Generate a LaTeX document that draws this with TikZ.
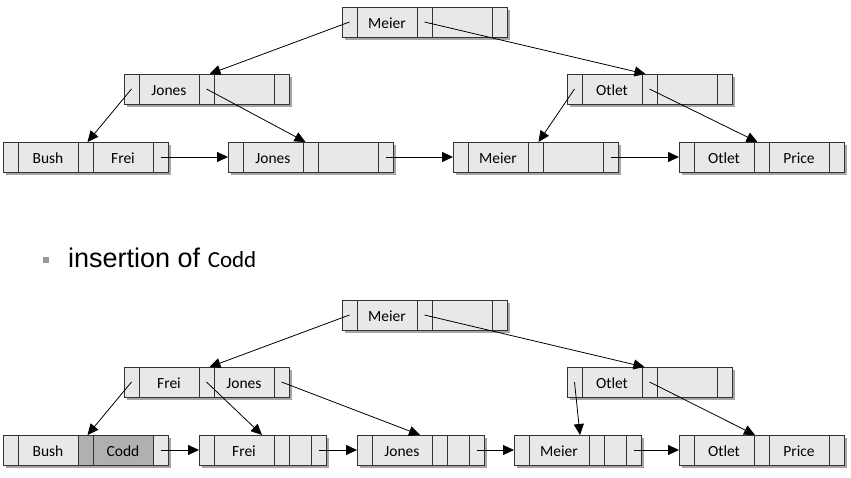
\documentclass[tikz,border=0pt]{standalone}
\usepackage{fontspec}
\newfontfamily\carl{Carlito}
\newfontfamily\ari{Liberation Sans}
\usetikzlibrary{arrows.meta}
\definecolor{cellgray}{HTML}{E8E8E8}
\definecolor{codgray}{HTML}{B0B0B0}
\tikzset{
 cell/.style={draw=black!80, fill=cellgray, line width=0.9pt, minimum height=30pt,
   inner sep=0pt, outer sep=0pt, anchor=north west, text height=12.5pt, text depth=0pt,
   font=\carl\fontsize{15.5}{18}\selectfont, text=black},
 dark/.style={fill=codgray},
 shad/.style={fill=black!35},
 ptr/.style={-{Triangle[length=11pt,width=10pt]}, line width=0.8pt},
}
\newcommand\recbox[7]{%
 \pgfmathsetmacro\recw{105+#6}%
 \fill[shad] (#2+3,#3+3) rectangle ++(\recw,30);
 \node[cell,minimum width=15pt] (#1p0) at (#2,#3) {};
 \node[cell,minimum width=60pt] (#1k0) at (#1p0.north east) {#4};
 \node[cell,minimum width=15pt,#7] (#1p1) at (#1k0.north east) {};
 \node[cell,minimum width=#6pt,#7] (#1k1) at (#1p1.north east) {#5};
 \node[cell,minimum width=15pt] (#1p2) at (#1k1.north east) {};
}
\begin{document}
\begin{tikzpicture}[x=1pt,y=-1pt]
\fill[white] (0,0) rectangle (851,478);
\useasboundingbox (0,0) rectangle (851,478);
% top tree
\recbox{tr}{342}{7}{Meier}{}{60}{}
\recbox{tj}{124}{74}{Jones}{}{60}{}
\recbox{to}{567}{74}{Otlet}{}{60}{}
\recbox{ta}{3}{142}{Bush}{Frei}{60}{}
\recbox{tb}{228}{142}{Jones}{}{60}{}
\recbox{tc}{453}{142}{Meier}{}{60}{}
\recbox{td}{679}{142}{Otlet}{Price}{60}{}
\draw[ptr] (trp0.center) -- ([xshift=3pt]tjp1.north);
\draw[ptr] (trp1.center) -- ([xshift=-4pt]top1.north);
\draw[ptr] (tjp0.center) -- ([xshift=2pt]tap1.north);
\draw[ptr] (tjp1.center) -- ([xshift=-5pt]tbp1.north);
\draw[ptr] (top0.center) -- ([xshift=3pt]tcp1.north);
\draw[ptr] (top1.center) -- ([xshift=-4pt]tdp1.north);
\draw[ptr] (tap2.center) -- (tbp0.west);
\draw[ptr] (tbp2.center) -- (tcp0.west);
\draw[ptr] (tcp2.center) -- (tdp0.west);
% caption
\node[fill=black!40, minimum size=6pt, inner sep=0pt] (bullet) at (46,260) {};
\node[anchor=base west, inner sep=0pt] (cap) at (68,268)
  {\ari\fontsize{27}{30}\selectfont insertion of \carl\fontsize{23}{26}\selectfont Codd};
% bottom tree
\recbox{br}{342}{300}{Meier}{}{60}{}
\recbox{bj}{124}{367}{Frei}{Jones}{60}{}
\recbox{bo}{567}{367}{Otlet}{}{60}{}
\recbox{ba}{3}{435}{Bush}{Codd}{60}{dark}
\recbox{bb}{199}{435}{Frei}{}{22}{}
\recbox{bc}{357}{435}{Jones}{}{22}{}
\recbox{bd}{514}{435}{Meier}{}{22}{}
\recbox{be}{679}{435}{Otlet}{Price}{60}{}
\draw[ptr] (brp0.center) -- ([xshift=3pt]bjp1.north);
\draw[ptr] (brp1.center) -- ([xshift=-5pt]bop1.north);
\draw[ptr] (bjp0.center) -- ([xshift=2pt]bap1.north);
\draw[ptr] (bjp1.center) -- ([xshift=-12pt]bbk0.north east);
\draw[ptr] (bjp2.center) -- ([xshift=-12pt]bck0.north east);
\draw[ptr] (bop0.center) -- ([xshift=-9pt]bdk0.north east);
\draw[ptr] (bop1.center) -- ([xshift=1pt]bek0.north east);
\draw[ptr] (bap2.center) -- (bbp0.west);
\draw[ptr] (bbp2.center) -- (bcp0.west);
\draw[ptr] (bcp2.center) -- (bdp0.west);
\draw[ptr] (bdp2.center) -- (bep0.west);
\end{tikzpicture}
\end{document}
